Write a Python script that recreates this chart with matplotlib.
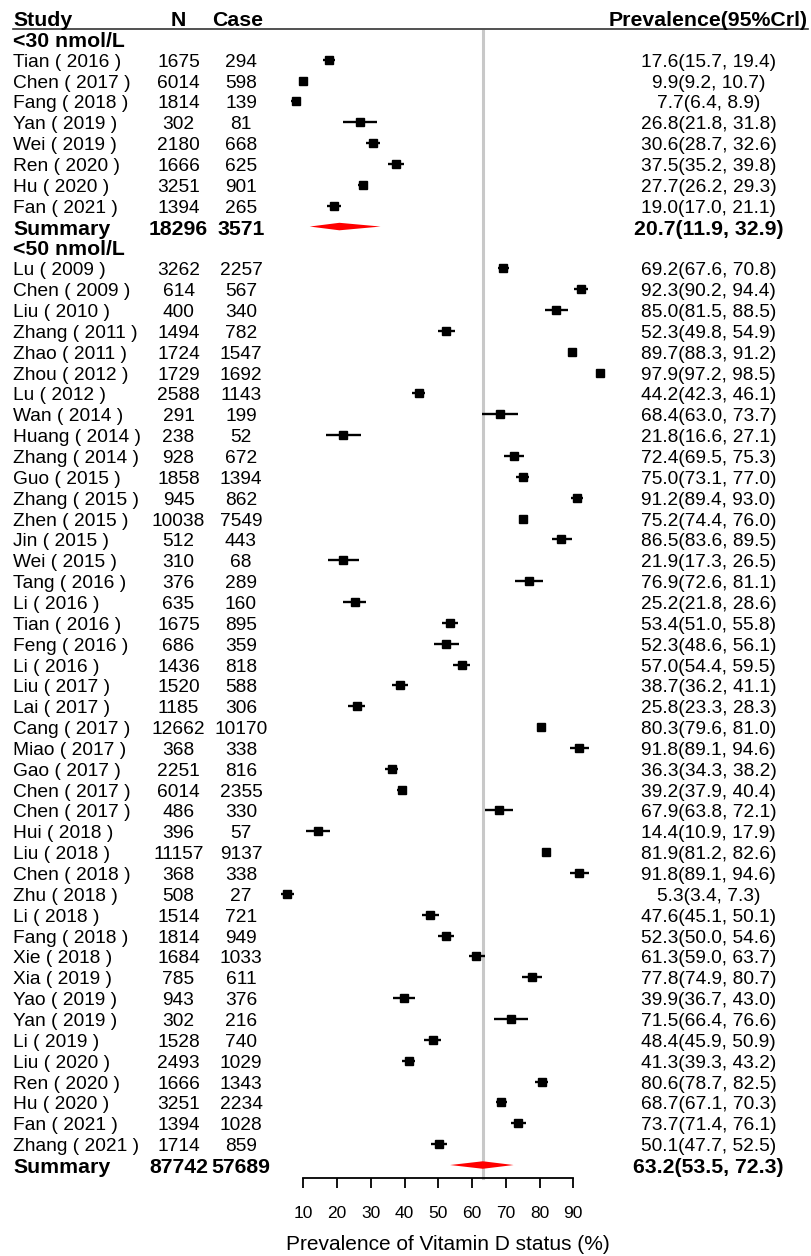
import matplotlib
matplotlib.use("Agg")
import matplotlib.pyplot as plt
from matplotlib import transforms

plt.rcParams['font.family'] = ['Liberation Sans', 'DejaVu Sans']

# ---- data -------------------------------------------------------------
group_labels = ["<30 nmol/L", "<50 nmol/L"]

g1_study = ["Tian ( 2016 )", "Chen ( 2017 )", "Fang ( 2018 )", "Yan ( 2019 )",
            "Wei ( 2019 )", "Ren ( 2020 )", "Hu ( 2020 )", "Fan ( 2021 )"]
g1_n = [1675, 6014, 1814, 302, 2180, 1666, 3251, 1394]
g1_case = [294, 598, 139, 81, 668, 625, 901, 265]
g1_est = [17.6, 9.9, 7.7, 26.8, 30.6, 37.5, 27.7, 19.0]
g1_lo = [15.7, 9.2, 6.4, 21.8, 28.7, 35.2, 26.2, 17.0]
g1_hi = [19.4, 10.7, 8.9, 31.8, 32.6, 39.8, 29.3, 21.1]
g1_sum_n, g1_sum_case = 18296, 3571
g1_sum = (20.7, 11.9, 32.9)

g2_study = ["Lu ( 2009 )", "Chen ( 2009 )", "Liu ( 2010 )", "Zhang ( 2011 )",
            "Zhao ( 2011 )", "Zhou ( 2012 )", "Lu ( 2012 )", "Wan ( 2014 )",
            "Huang ( 2014 )", "Zhang ( 2014 )", "Guo ( 2015 )", "Zhang ( 2015 )",
            "Zhen ( 2015 )", "Jin ( 2015 )", "Wei ( 2015 )", "Tang ( 2016 )",
            "Li ( 2016 )", "Tian ( 2016 )", "Feng ( 2016 )", "Li ( 2016 )",
            "Liu ( 2017 )", "Lai ( 2017 )", "Cang ( 2017 )", "Miao ( 2017 )",
            "Gao ( 2017 )", "Chen ( 2017 )", "Chen ( 2017 )", "Hui ( 2018 )",
            "Liu ( 2018 )", "Chen ( 2018 )", "Zhu ( 2018 )", "Li ( 2018 )",
            "Fang ( 2018 )", "Xie ( 2018 )", "Xia ( 2019 )", "Yao ( 2019 )",
            "Yan ( 2019 )", "Li ( 2019 )", "Liu ( 2020 )", "Ren ( 2020 )",
            "Hu ( 2020 )", "Fan ( 2021 )", "Zhang ( 2021 )"]
g2_n = [3262, 614, 400, 1494, 1724, 1729, 2588, 291, 238, 928, 1858, 945,
        10038, 512, 310, 376, 635, 1675, 686, 1436, 1520, 1185, 12662, 368,
        2251, 6014, 486, 396, 11157, 368, 508, 1514, 1814, 1684, 785, 943,
        302, 1528, 2493, 1666, 3251, 1394, 1714]
g2_case = [2257, 567, 340, 782, 1547, 1692, 1143, 199, 52, 672, 1394, 862,
           7549, 443, 68, 289, 160, 895, 359, 818, 588, 306, 10170, 338,
           816, 2355, 330, 57, 9137, 338, 27, 721, 949, 1033, 611, 376,
           216, 740, 1029, 1343, 2234, 1028, 859]
g2_est = [69.2, 92.3, 85.0, 52.3, 89.7, 97.9, 44.2, 68.4, 21.8, 72.4, 75.0, 91.2,
          75.2, 86.5, 21.9, 76.9, 25.2, 53.4, 52.3, 57.0, 38.7, 25.8, 80.3, 91.8,
          36.3, 39.2, 67.9, 14.4, 81.9, 91.8, 5.3, 47.6, 52.3, 61.3, 77.8, 39.9,
          71.5, 48.4, 41.3, 80.6, 68.7, 73.7, 50.1]
g2_lo = [67.6, 90.2, 81.5, 49.8, 88.3, 97.2, 42.3, 63.0, 16.6, 69.5, 73.1, 89.4,
         74.4, 83.6, 17.3, 72.6, 21.8, 51.0, 48.6, 54.4, 36.2, 23.3, 79.6, 89.1,
         34.3, 37.9, 63.8, 10.9, 81.2, 89.1, 3.4, 45.1, 50.0, 59.0, 74.9, 36.7,
         66.4, 45.9, 39.3, 78.7, 67.1, 71.4, 47.7]
g2_hi = [70.8, 94.4, 88.5, 54.9, 91.2, 98.5, 46.1, 73.7, 27.1, 75.3, 77.0, 93.0,
         76.0, 89.5, 26.5, 81.1, 28.6, 55.8, 56.1, 59.5, 41.1, 28.3, 81.0, 94.6,
         38.2, 40.4, 72.1, 17.9, 82.6, 94.6, 7.3, 50.1, 54.6, 63.7, 80.7, 43.0,
         76.6, 50.9, 43.2, 82.5, 70.3, 76.1, 52.5]
g2_sum_n, g2_sum_case = 87742, 57689
g2_sum = (63.2, 53.5, 72.3)

x_ticks = [10, 20, 30, 40, 50, 60, 70, 80, 90]
x_label = "Prevalence of Vitamin D status (%)"
headers = ["Study", "N", "Case", "Prevalence(95%Crl)"]

# ---- layout -----------------------------------------------------------
W, H = 811, 1256
fig = plt.figure(figsize=(W / 100, H / 100), dpi=100)

row0_px, row_px = 18.0, 20.855
y_top = -row0_px / row_px
y_bot = (H - row0_px) / row_px

ax_left, ax_right = 303.3, 573.3
ax = fig.add_axes([ax_left / W, 0, (ax_right - ax_left) / W, 1])
ax.set_xlim(10, 90)
ax.set_ylim(y_bot, y_top)

# x in figure fraction, y in row units; text nudged slightly down
trans = (transforms.blended_transform_factory(fig.transFigure, ax.transData)
         + transforms.ScaledTranslation(0, -2.5 / 100, fig.dpi_scale_trans))
line_trans = transforms.blended_transform_factory(fig.transFigure, ax.transData)

def fx(px):
    return px / W

col_name, col_n, col_case, col_est = 13, 178.5, 241, 708.5
fs_reg, fs_bold = 13.8, 15.3

# header
for txt, x, ha in zip(headers, [col_name, col_n, 238, col_est],
                      ["left", "center", "center", "center"]):
    ax.text(fx(x), 0, txt, transform=trans, ha=ha, va="center",
            fontsize=fs_bold, fontweight="bold")
ax.plot([fx(13), fx(808)], [0.53, 0.53], transform=line_trans,
        color="#333333", lw=1.2, clip_on=False)


def draw_group(start, label, study, n, case, est, lo, hi, sn, sc, summ):
    ax.text(fx(col_name), start, label, transform=trans, ha="left",
            va="center", fontsize=fs_bold, fontweight="bold")
    r = start + 1
    for s, nn, cc, e, l, h in zip(study, n, case, est, lo, hi):
        ax.text(fx(col_name), r, s, transform=trans, ha="left", va="center",
                fontsize=fs_reg)
        ax.text(fx(col_n), r, f"{nn}", transform=trans, ha="center",
                va="center", fontsize=fs_reg)
        ax.text(fx(col_case), r, f"{cc}", transform=trans, ha="center",
                va="center", fontsize=fs_reg)
        ax.text(fx(col_est), r, f"{e:.1f}({l:.1f}, {h:.1f})", transform=trans,
                ha="center", va="center", fontsize=fs_reg)
        ax.plot([l, h], [r, r], color="black", lw=1.7, clip_on=False,
                solid_capstyle="butt", zorder=3)
        ax.plot([e], [r], marker="s", ms=6, color="black", clip_on=False,
                zorder=4)
        r += 1
    m, l, h = summ
    ax.text(fx(col_name), r, "Summary", transform=trans, ha="left",
            va="center", fontsize=fs_bold, fontweight="bold")
    ax.text(fx(col_n), r, f"{sn}", transform=trans, ha="center",
            va="center", fontsize=fs_bold, fontweight="bold")
    ax.text(fx(col_case), r, f"{sc}", transform=trans, ha="center",
            va="center", fontsize=fs_bold, fontweight="bold")
    ax.text(fx(col_est), r, f"{m:.1f}({l:.1f}, {h:.1f})", transform=trans,
            ha="center", va="center", fontsize=fs_bold, fontweight="bold")
    dh = 0.18
    ax.fill([l, m, h, m], [r, r - dh, r, r + dh], color="red", lw=0,
            zorder=3)
    return r + 1


nxt = draw_group(1, group_labels[0], g1_study, g1_n, g1_case, g1_est, g1_lo,
                 g1_hi, g1_sum_n, g1_sum_case, g1_sum)
last = draw_group(nxt, group_labels[1], g2_study, g2_n, g2_case, g2_est, g2_lo,
                  g2_hi, g2_sum_n, g2_sum_case, g2_sum)

axis_y = (1177.7 - row0_px) / row_px

# reference line at the overall summary estimate
ax.plot([g2_sum[0], g2_sum[0]], [0.6, axis_y], color="#c8c8c8", lw=2.2,
        zorder=1)

# x axis
for side in ["left", "right", "top"]:
    ax.spines[side].set_visible(False)
ax.spines["bottom"].set_position(("data", axis_y))
ax.spines["bottom"].set_linewidth(1.3)
ax.set_yticks([])
ax.set_xticks(x_ticks)
ax.tick_params(axis="x", direction="out", length=7.4, width=1.3,
               pad=13, labelsize=12.5)
ax.patch.set_visible(False)

fig.text(447.5 / W, 1 - 1245 / H, x_label, ha="center", va="center",
         fontsize=15)

fig.savefig("out.png", dpi=100)
